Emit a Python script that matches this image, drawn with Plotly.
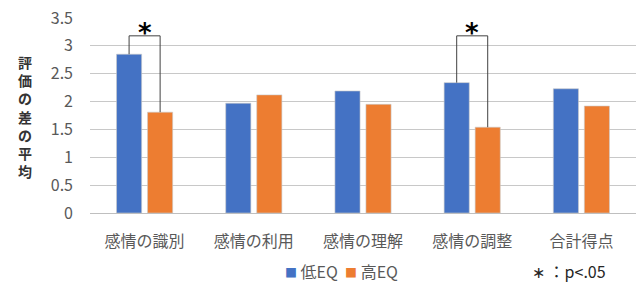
import plotly.graph_objects as go

categories = ["感情の識別", "感情の利用", "感情の理解", "感情の調整", "合計得点"]
low_eq = [2.85, 1.97, 2.19, 2.34, 2.23]
high_eq = [1.81, 2.12, 1.95, 1.54, 1.92]
series_names = ["低EQ", "高EQ"]
significant = [0, 3]
bracket_top = 3.18
y_ticks = [0, 0.5, 1, 1.5, 2, 2.5, 3, 3.5]
y_title = "評価の差の平均"

FONT = "Noto Sans CJK JP, Noto Sans, sans-serif"
GRAY = "#595959"
BLUE = "#4472C4"
ORANGE = "#ED7D31"

PLOT_TOP, PLOT_BOTTOM, PLOT_LEFT, PLOT_RIGHT = 16, 213, 90, 636
PH = PLOT_BOTTOM - PLOT_TOP
PW = PLOT_RIGHT - PLOT_LEFT

def py(pix):
    return (PLOT_BOTTOM - pix) / PH

def px(pix):
    return (pix - PLOT_LEFT) / PW

fig = go.Figure()
fig.add_trace(go.Bar(name=series_names[0], x=categories, y=low_eq,
                     marker=dict(color=BLUE, line=dict(width=0.6, color="#c9c9c9"))))
fig.add_trace(go.Bar(name=series_names[1], x=categories, y=high_eq,
                     marker=dict(color=ORANGE, line=dict(width=0.6, color="#c9c9c9"))))

off = 0.142
for i in significant:
    path = (f"M {i-off},{low_eq[i]} L {i-off},{bracket_top} "
            f"L {i+off},{bracket_top} L {i+off},{high_eq[i]}")
    fig.add_shape(type="path", path=path, xref="x", yref="y",
                  line=dict(color="#404040", width=1), layer="above")
    fig.add_annotation(x=i, y=bracket_top, xref="x", yref="y", text="<b>*</b>",
                       showarrow=False, yanchor="bottom", yshift=-14,
                       font=dict(size=26, color="black", family="DejaVu Sans"))

# vertical (upright) y-axis title
fig.add_annotation(x=px(25), y=py(115.5), xref="paper", yref="paper",
                   xanchor="center", yanchor="middle",
                   text="<br>".join(y_title),
                   showarrow=False,
                   font=dict(size=14, color="#333333", family=FONT, weight="bold"))

# legend
legend_text = (f"<span style='color:{BLUE};font-size:12px'>■</span>&nbsp;{series_names[0]}&nbsp;&nbsp;"
               f"<span style='color:{ORANGE};font-size:12px'>■</span>&nbsp;{series_names[1]}")
fig.add_annotation(x=px(341), y=py(272), xref="paper", yref="paper",
                   xanchor="center", yanchor="middle", text=legend_text, showarrow=False,
                   font=dict(size=16, color=GRAY, family=FONT))

fig.add_annotation(x=px(569), y=py(272), xref="paper", yref="paper", xanchor="center", yanchor="middle",
                   text="∗ ：p<.05", showarrow=False,
                   font=dict(size=16, color="#262626", family=FONT))

fig.update_layout(
    width=641, height=291,
    margin=dict(l=PLOT_LEFT, r=641 - PLOT_RIGHT, t=PLOT_TOP, b=291 - PLOT_BOTTOM),
    paper_bgcolor="white", plot_bgcolor="white",
    font=dict(family=FONT, size=16, color=GRAY),
    barmode="group", bargap=0.432, bargroupgap=0.19,
    showlegend=False,
    xaxis=dict(showgrid=False, showline=True, linecolor="#bfbfbf", linewidth=1,
               ticks="", ticklabelstandoff=14, tickfont=dict(size=16, color=GRAY)),
    yaxis=dict(range=[0, 3.5], tickvals=y_ticks, ticktext=[f"{v:g}" for v in y_ticks],
               showgrid=True, gridcolor="#c8c8c8", gridwidth=1, zeroline=False,
               ticks="", ticklabelstandoff=16, tickfont=dict(size=16, color=GRAY)),
)

fig.write_html("out.html", config={"displayModeBar": False},
               post_script="document.body.style.margin='0';")
